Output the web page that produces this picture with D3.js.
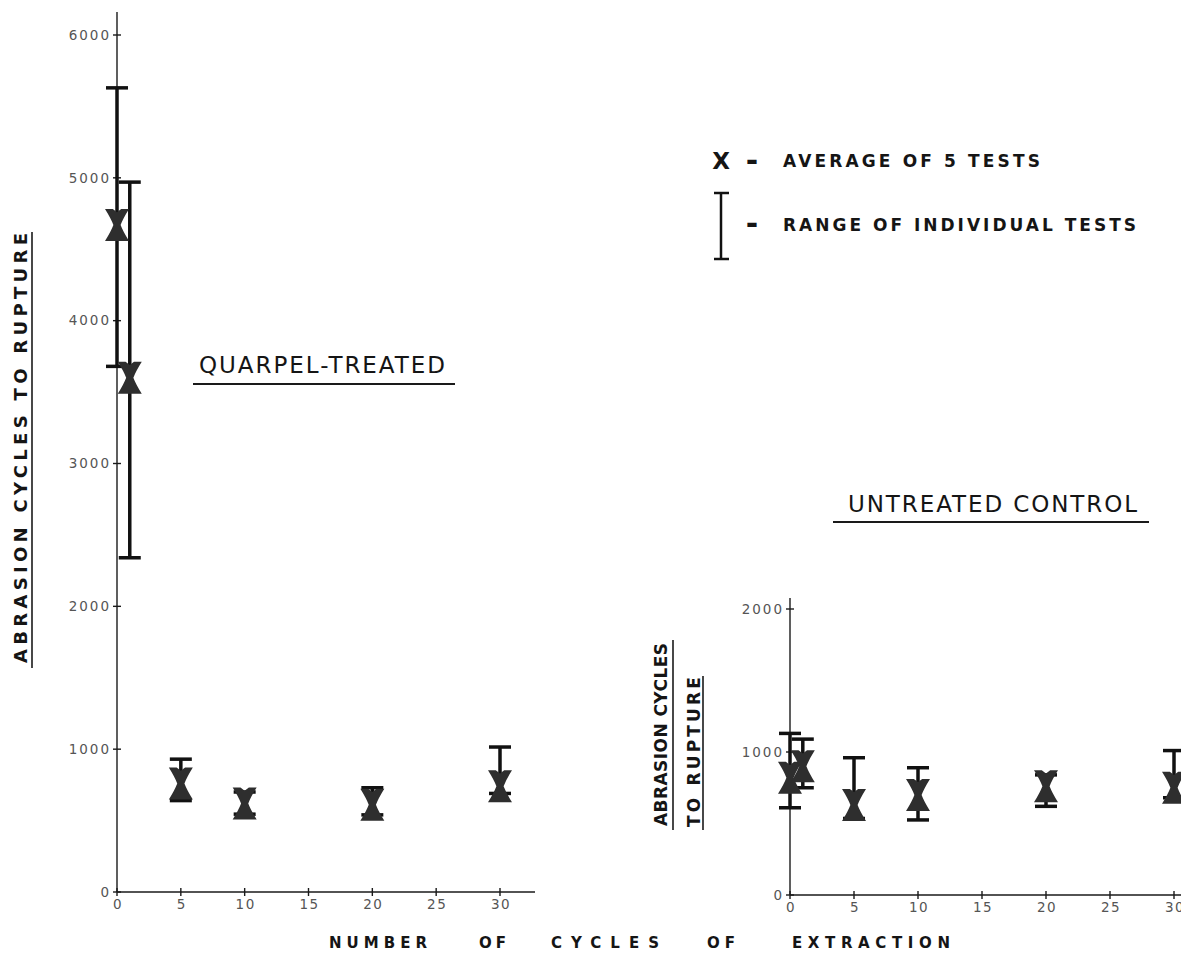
<!DOCTYPE html>
<html>
<head>
<meta charset="utf-8">
<script src="https://cdn.jsdelivr.net/npm/d3@7"></script>
<style>
  html, body { margin: 0; padding: 0; background: #fff; }
  svg { display: block; }
  text { font-family: "DejaVu Sans", "Liberation Sans", sans-serif; fill: #151515; }
</style>
</head>
<body>
<svg id="chart" width="1181" height="967"></svg>
<script>
// ---------- DATA ----------
const extractionCycles = [0, 1, 5, 10, 20, 30];

const treatedAvg = [4670, 3600, 760, 620, 610, 740];
const treatedMax = [5630, 4970, 930, 700, 730, 1015];
const treatedMin = [3680, 2340, 640, 545, 540, 690];

const controlAvg = [820, 900, 630, 700, 760, 750];
const controlMax = [1130, 1090, 960, 890, 840, 1010];
const controlMin = [610, 750, 535, 525, 620, 680];

const xTickValues = [0, 5, 10, 15, 20, 25, 30];
const xTickLabels = ["0", "5", "10", "15", "20", "25", "30"];
const yTicksTreated = [0, 1000, 2000, 3000, 4000, 5000, 6000];
const yTicksControl = [0, 1000, 2000];

const titleTreated = "QUARPEL-TREATED";
const titleControl = "UNTREATED  CONTROL";
const yLabelTreated = "ABRASION  CYCLES  TO  RUPTURE";
const yLabelControl1 = "ABRASION  CYCLES";
const yLabelControl2 = "TO  RUPTURE";
const xLabelWords = ["NUMBER", "OF", "CYCLES", "OF", "EXTRACTION"];
const legendAvg = "AVERAGE  OF  5  TESTS";
const legendRange = "RANGE  OF  INDIVIDUAL  TESTS";

// ---------- SETUP ----------
const svg = d3.select("#chart");
const ink = "#1a1a1a";
const markFill = "#2e2e2e";

const xL = d3.scaleLinear().domain([0, 30]).range([117, 500]);
const yL = d3.scaleLinear().domain([0, 6000]).range([892, 35]);
const xR = d3.scaleLinear().domain([0, 30]).range([790, 1174]);
const yR = d3.scaleLinear().domain([0, 2000]).range([895, 609]);

function hourglass(w, h) {
  // hourglass-like "X" marker centred on 0,0
  return `M${-w},${-h} L${-w*0.35},${-h} L0,${-h*0.8} L${w*0.35},${-h} L${w},${-h}
          Q${w*0.5},${-h*0.4} ${w*0.3},0 Q${w*0.5},${h*0.4} ${w},${h}
          L${-w},${h} Q${-w*0.5},${h*0.4} ${-w*0.3},0 Q${-w*0.5},${-h*0.4} ${-w},${-h} Z`;
}

function drawPanel(g, x, y, yTicks, xEnd, yTop, avg, mx, mn) {
  // axes lines
  g.append("line").attr("x1", x(0)).attr("x2", xEnd).attr("y1", y(0)).attr("y2", y(0))
    .attr("stroke", ink).attr("stroke-width", 1.4);
  g.append("line").attr("x1", x(0)).attr("x2", x(0)).attr("y1", y(0)).attr("y2", yTop)
    .attr("stroke", ink).attr("stroke-width", 1.4);

  // y ticks (small crosses) and labels
  const yt = g.append("g").selectAll("g").data(yTicks).join("g")
    .attr("transform", d => `translate(${x(0)},${y(d)})`);
  yt.append("line").attr("x1", -4).attr("x2", 4).attr("stroke", ink).attr("stroke-width", 1.4);
  yt.append("text").attr("x", -6).attr("dy", "0.35em").attr("text-anchor", "end")
    .attr("font-size", 13.5).attr("letter-spacing", 2).style("fill", "#555")
    .text(d => d);

  // x ticks and labels
  const xt = g.append("g").selectAll("g").data(xTickValues).join("g")
    .attr("transform", d => `translate(${x(d)},${y(0)})`);
  xt.append("line").attr("y1", -4).attr("y2", 4).attr("stroke", ink).attr("stroke-width", 1.4);
  xt.append("text").attr("x", 1).attr("y", 17).attr("text-anchor", "middle")
    .attr("font-size", 13.5).attr("letter-spacing", 1.5).style("fill", "#555")
    .text((d, i) => xTickLabels[i]);

  // error bars
  const bars = g.append("g").selectAll("g").data(extractionCycles).join("g");
  bars.append("line")
    .attr("x1", (d) => x(d)).attr("x2", (d) => x(d))
    .attr("y1", (d, i) => y(mx[i])).attr("y2", (d, i) => y(mn[i]))
    .attr("stroke", "#111").attr("stroke-width", 3.5);
  bars.append("line")
    .attr("x1", (d) => x(d) - 11).attr("x2", (d) => x(d) + 11)
    .attr("y1", (d, i) => y(mx[i])).attr("y2", (d, i) => y(mx[i]))
    .attr("stroke", "#111").attr("stroke-width", 3.5);
  bars.append("line")
    .attr("x1", (d) => x(d) - 11).attr("x2", (d) => x(d) + 11)
    .attr("y1", (d, i) => y(mn[i])).attr("y2", (d, i) => y(mn[i]))
    .attr("stroke", "#111").attr("stroke-width", 3.5);

  // average markers
  g.append("g").selectAll("path").data(extractionCycles).join("path")
    .attr("transform", (d, i) => `translate(${x(d)},${y(avg[i])})`)
    .attr("d", hourglass(12, 16))
    .attr("fill", markFill);
}

drawPanel(svg.append("g"), xL, yL, yTicksTreated, 535, 12, treatedAvg, treatedMax, treatedMin);
drawPanel(svg.append("g"), xR, yR, yTicksControl, 1181, 598, controlAvg, controlMax, controlMin);

// ---------- TITLES ----------
svg.append("text").attr("x", 199).attr("y", 373).attr("font-size", 23)
  .attr("textLength", 246).attr("lengthAdjust", "spacing").text(titleTreated);
svg.append("line").attr("x1", 193).attr("x2", 455).attr("y1", 384).attr("y2", 384)
  .attr("stroke", ink).attr("stroke-width", 2);

svg.append("text").attr("x", 848).attr("y", 512).attr("font-size", 23)
  .attr("textLength", 289).attr("lengthAdjust", "spacing").text(titleControl);
svg.append("line").attr("x1", 833).attr("x2", 1149).attr("y1", 522).attr("y2", 522)
  .attr("stroke", ink).attr("stroke-width", 2);

// ---------- Y LABELS ----------
svg.append("text").attr("transform", "translate(27,663) rotate(-90)")
  .attr("font-size", 18).attr("font-weight", "bold")
  .attr("textLength", 430).attr("lengthAdjust", "spacing").text(yLabelTreated);
svg.append("line").attr("x1", 32).attr("x2", 32).attr("y1", 232).attr("y2", 668)
  .attr("stroke", ink).attr("stroke-width", 1.6);

svg.append("text").attr("transform", "translate(667,826) rotate(-90)")
  .attr("font-size", 17).attr("font-weight", "bold")
  .attr("textLength", 183).attr("lengthAdjust", "spacing").text(yLabelControl1);
svg.append("line").attr("x1", 673).attr("x2", 673).attr("y1", 640).attr("y2", 830)
  .attr("stroke", ink).attr("stroke-width", 1.6);

svg.append("text").attr("transform", "translate(700,827) rotate(-90)")
  .attr("font-size", 17).attr("font-weight", "bold")
  .attr("textLength", 150).attr("lengthAdjust", "spacing").text(yLabelControl2);
svg.append("line").attr("x1", 703).attr("x2", 703).attr("y1", 676).attr("y2", 830)
  .attr("stroke", ink).attr("stroke-width", 1.6);

// ---------- X LABEL ----------
const xWordPos = [329, 479, 551, 707, 792];
const xWordLen = [98, 27, 108, 28, 158];
const xl = svg.append("text").attr("y", 948).attr("font-size", 15).attr("font-weight", "bold");
xl.selectAll("tspan").data(xLabelWords).join("tspan")
  .attr("x", (d, i) => xWordPos[i])
  .attr("textLength", (d, i) => xWordLen[i]).attr("lengthAdjust", "spacing")
  .text(d => d);

// ---------- LEGEND ----------
svg.append("text").attr("x", 721).attr("y", 169).attr("text-anchor", "middle")
  .attr("font-size", 23).attr("font-weight", "bold").text("X");
svg.append("text").attr("x", 752).attr("y", 171).attr("text-anchor", "middle")
  .attr("font-size", 30).attr("font-weight", "bold").text("-");
svg.append("text").attr("x", 783).attr("y", 167).attr("font-size", 17).attr("font-weight", "bold")
  .attr("textLength", 257).attr("lengthAdjust", "spacing").text(legendAvg);

svg.append("line").attr("x1", 721).attr("x2", 721).attr("y1", 193).attr("y2", 259)
  .attr("stroke", "#111").attr("stroke-width", 2.5);
svg.append("line").attr("x1", 714).attr("x2", 729).attr("y1", 193).attr("y2", 193)
  .attr("stroke", "#111").attr("stroke-width", 2.5);
svg.append("line").attr("x1", 714).attr("x2", 729).attr("y1", 259).attr("y2", 259)
  .attr("stroke", "#111").attr("stroke-width", 2.5);
svg.append("text").attr("x", 752).attr("y", 234).attr("text-anchor", "middle")
  .attr("font-size", 30).attr("font-weight", "bold").text("-");
svg.append("text").attr("x", 783).attr("y", 231).attr("font-size", 17).attr("font-weight", "bold")
  .attr("textLength", 353).attr("lengthAdjust", "spacing").text(legendRange);
</script>
</body>
</html>
